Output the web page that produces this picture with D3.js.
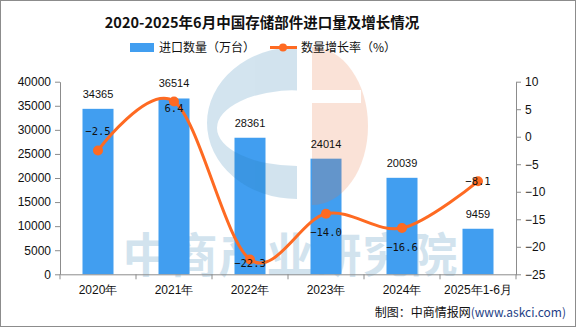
<!DOCTYPE html>
<html lang="zh">
<head>
<meta charset="UTF-8">
<title>中国存储部件进口量及增长情况</title>
<script src="https://d3js.org/d3.v7.min.js"></script>
<style>
    body{
        margin: 0;
        background: #fff;
    }
    #canvas{
        display: block;
        width: 576px;
        height: 327px;
    }
    .axis path, .axis line{
        stroke: #8c8c8c;
    }
    .axis text{
        font-family: "Liberation Sans", Arial, sans-serif;
        font-size: 12px;
        fill: #111;
    }
    .cjk{
        font-family: "Noto Sans CJK SC", sans-serif;
    }
</style>
</head>
<body>
<svg id="canvas" viewBox="0 0 576 327"></svg>
<script>
    let years = ["2020年", "2021年", "2022年", "2023年", "2024年", "2025年1-6月"]
    let imports = [34365, 36514, 28361, 24014, 20039, 9459]
    let growth = [-2.5, 6.4, -22.3, -14.0, -16.6, -8.1]
    let leftTicks = [0, 5000, 10000, 15000, 20000, 25000, 30000, 35000, 40000]
    let rightTicks = [-25, -20, -15, -10, -5, 0, 5, 10]
    // vertical nudge of each growth label relative to its point
    let growthLabelDy = [-19, 6, 4, 18, 19, 0]

    let svg = d3.select('#canvas')
    let plotLeft = 60, plotRight = 516, plotTop = 81.7, plotBottom = 274.3
    let blue = "#419ef0", orange = "#fe6a22"

    // frame round the whole picture
    svg.append('rect')
        .attr('x', 0.5).attr('y', 0.5)
        .attr('width', 575).attr('height', 326)
        .attr('fill', 'white').attr('stroke', '#8c8c8c')

    let x = d3.scaleBand().domain(years).range([plotLeft, plotRight])
    let yL = d3.scaleLinear().domain([0, 40000]).range([plotBottom, plotTop])
    let yR = d3.scaleLinear().domain([-25, 10]).range([plotBottom, plotTop])

    // watermark text sits behind the bars
    svg.append('text')
        .attr('class', 'cjk')
        .attr('x', 290).attr('y', 272)
        .attr('text-anchor', 'middle')
        .attr('font-size', 47)
        .attr('font-weight', 'bold')
        .attr('textLength', 335)
        .attr('fill', 'rgb(35,120,175)')
        .attr('opacity', 0.2)
        .text('中商产业研究院')

    let barW = 31
    svg.append('g').selectAll('rect')
        .data(imports)
        .enter()
        .append('rect')
        .attr('x', (d, i) => x(years[i]) + x.bandwidth() / 2 - barW / 2)
        .attr('y', d => yL(d))
        .attr('width', barW)
        .attr('height', d => yL(0) - yL(d))
        .attr('fill', blue)

    // logo watermark drawn over the bars
    let logo = svg.append('g').attr('opacity', 0.2)
    logo.append('path')
        .attr('fill', 'rgb(35,120,175)')
        .attr('fill-rule', 'evenodd')
        .attr('d', 'M297,47 A90,76 0 0 0 297,199 Z M297,90 A80,38 0 0 0 297,166 Z')
    logo.append('path')
        .attr('fill', 'rgb(235,115,60)')
        .attr('d', 'M312,47 A56,79 0 0 1 312,205 Z')
    logo.append('rect')
        .attr('x', 311).attr('y', 90).attr('width', 50).attr('height', 13)
        .attr('fill', 'white')

    // axes
    svg.append('g').attr('class', 'axis')
        .attr('transform', `translate(${plotLeft},0)`)
        .call(d3.axisLeft(yL).tickValues(leftTicks).tickFormat(d3.format('d'))
            .tickSize(5).tickPadding(4).tickSizeOuter(0))
    svg.append('g').attr('class', 'axis')
        .attr('transform', `translate(${plotRight},0)`)
        .call(d3.axisRight(yR).tickValues(rightTicks).tickSize(5).tickPadding(4).tickSizeOuter(0))
    let xAxis = svg.append('g').attr('class', 'axis')
        .attr('transform', `translate(0,${plotBottom})`)
        .call(d3.axisBottom(x).tickSize(0).tickPadding(11).tickSizeOuter(0))
    xAxis.selectAll('text').attr('font-family', '"Noto Sans CJK SC", sans-serif')
    xAxis.selectAll('.bound')
        .data(d3.range(years.length + 1))
        .enter()
        .append('line')
        .attr('x1', i => plotLeft + i * x.step())
        .attr('x2', i => plotLeft + i * x.step())
        .attr('y1', 0).attr('y2', 5)
        .attr('stroke', '#8c8c8c')

    // bar value labels
    svg.append('g').selectAll('text')
        .data(imports)
        .enter()
        .append('text')
        .attr('x', (d, i) => x(years[i]) + x.bandwidth() / 2)
        .attr('y', d => yL(d) - 11)
        .attr('text-anchor', 'middle')
        .attr('font-family', '"Liberation Sans", Arial, sans-serif')
        .attr('font-size', 11)
        .attr('fill', '#111')
        .text(d => d)

    // growth rate line
    let line = d3.line()
        .x((d, i) => x(years[i]) + x.bandwidth() / 2)
        .y(d => yR(d))
        .curve(d3.curveCardinal.tension(0))
    svg.append('path')
        .datum(growth)
        .attr('d', line)
        .attr('fill', 'none')
        .attr('stroke', orange)
        .attr('stroke-width', 3)
    svg.append('g').selectAll('circle')
        .data(growth)
        .enter()
        .append('circle')
        .attr('cx', (d, i) => x(years[i]) + x.bandwidth() / 2)
        .attr('cy', d => yR(d))
        .attr('r', 5)
        .attr('fill', orange)

    svg.append('g').selectAll('text')
        .data(growth)
        .enter()
        .append('text')
        .attr('x', (d, i) => x(years[i]) + x.bandwidth() / 2)
        .attr('y', (d, i) => yR(d) + growthLabelDy[i] + 4)
        .attr('text-anchor', 'middle')
        .attr('font-family', '"DejaVu Sans Mono", monospace')
        .attr('font-size', 10.5)
        .attr('fill', '#111')
        .text(d => d3.format('.1f')(d).replace('-', '−'))

    // title
    svg.append('text')
        .attr('class', 'cjk')
        .attr('x', 262).attr('y', 28)
        .attr('text-anchor', 'middle')
        .attr('font-size', 14.5)
        .attr('font-weight', 'bold')
        .attr('fill', '#111')
        .text('2020-2025年6月中国存储部件进口量及增长情况')

    // legend
    let legend = svg.append('g').attr('class', 'cjk').attr('font-size', 12).attr('fill', '#111')
    legend.append('rect')
        .attr('x', 130).attr('y', 43).attr('width', 24).attr('height', 9)
        .attr('fill', blue)
    legend.append('text').attr('x', 159).attr('y', 52).text('进口数量（万台）')
    legend.append('line')
        .attr('x1', 270).attr('x2', 297).attr('y1', 47.5).attr('y2', 47.5)
        .attr('stroke', orange).attr('stroke-width', 3)
    legend.append('circle').attr('cx', 283).attr('cy', 47.5).attr('r', 4).attr('fill', orange)
    legend.append('text').attr('x', 301).attr('y', 52).text('数量增长率（%）')

    // source note
    let note = svg.append('text')
        .attr('class', 'cjk')
        .attr('x', 566).attr('y', 317)
        .attr('text-anchor', 'end')
        .attr('font-size', 12)
    note.append('tspan').attr('fill', '#111').text('制图：中商情报网')
    note.append('tspan').attr('fill', '#1f3f86').text('(www.askci.com)')
</script>
</body>
</html>
